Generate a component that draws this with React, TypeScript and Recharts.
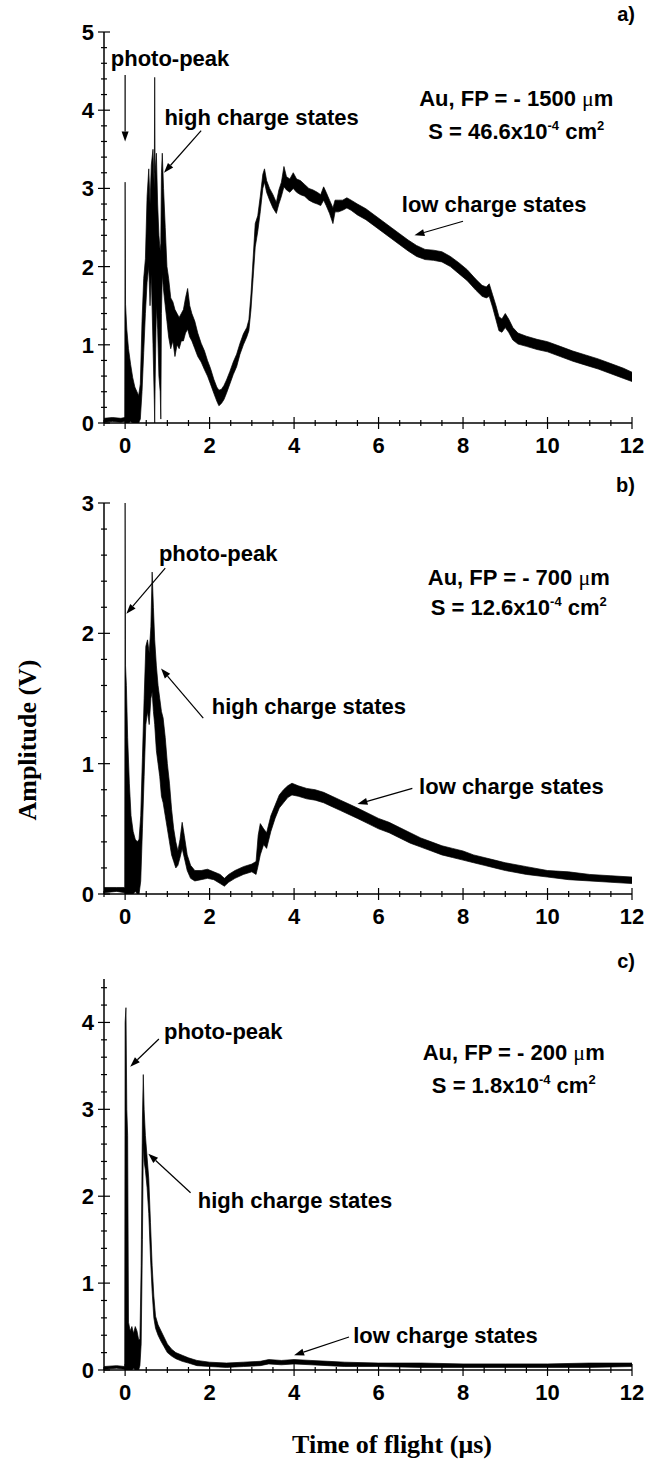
import { AreaChart, Area, XAxis, YAxis, ReferenceDot, ReferenceLine } from 'recharts';

const SANS = '"Liberation Sans", Arial, Helvetica, sans-serif';
const SERIF = '"Liberation Serif", "Times New Roman", serif';

// time of flight axis (µs), shared by the three panels
const xTicks = [-0.5, 0, 0.5, 1, 1.5, 2, 2.5, 3, 3.5, 4, 4.5, 5, 5.5, 6, 6.5, 7, 7.5, 8, 8.5, 9, 9.5, 10, 10.5, 11, 11.5, 12];
const xMajor = [0, 2, 4, 6, 8, 10, 12];

// a) FP = -1500 µm : noisy trace kept as lower / upper edge of the band
const timeA = [
  -0.5, -0.3, -0.1, -0.01, 0, 0.01, 0.04, 0.08, 0.13, 0.18,
  0.23, 0.28, 0.32, 0.36, 0.4, 0.44, 0.48, 0.52, 0.56, 0.59,
  0.62, 0.66, 0.69, 0.7, 0.71, 0.74, 0.77, 0.8, 0.83, 0.845,
  0.86, 0.88, 0.91, 0.95, 0.99, 1.03, 1.08, 1.13, 1.18, 1.23,
  1.28, 1.33, 1.38, 1.43, 1.48, 1.53, 1.58, 1.65, 1.72, 1.8,
  1.88, 1.95, 2.02, 2.1, 2.17, 2.22, 2.28, 2.34, 2.4, 2.48,
  2.56, 2.64, 2.72, 2.8, 2.88, 2.93, 2.98, 3.03, 3.08, 3.14,
  3.2, 3.26, 3.3, 3.35, 3.42, 3.5, 3.58, 3.64, 3.7, 3.76,
  3.82, 3.9, 3.98, 4.06, 4.15, 4.25, 4.35, 4.45, 4.55, 4.63,
  4.7, 4.76, 4.84, 4.92, 4.97, 5.05, 5.15, 5.25, 5.35, 5.5,
  5.7, 5.9, 6.1, 6.3, 6.5, 6.7, 6.9, 7.1, 7.3, 7.5,
  7.7, 7.9, 8.1, 8.3, 8.45, 8.55, 8.62, 8.7, 8.78, 8.85,
  8.92, 9.0, 9.08, 9.18, 9.3, 9.5, 9.75, 10.0, 10.3, 10.6,
  10.9, 11.2, 11.5, 11.8, 12.0,
];
const lowA = [
  0.01, 0.02, 0.01, 0.02, 0, 0, 0, 0, 0.02, 0,
  0, 0, 0, 0.05, 0.4, 0.9, 1.4, 1.8, 2.0, 1.5,
  1.9, 1.0, 0.3, 0, 0.5, 1.5, 1.2, 0.6, 0.4, 0.05,
  1.4, 1.9, 1.7, 1.5, 1.3, 1.1, 0.95, 1.05, 0.85, 1.0,
  0.95, 1.05, 1.05, 1.15, 1.2, 1.1, 1.05, 0.95, 0.85, 0.78,
  0.68, 0.6, 0.5, 0.38, 0.28, 0.22, 0.25, 0.3, 0.38, 0.5,
  0.62, 0.72, 0.88, 1.0, 1.1, 1.18, 1.45, 1.85, 2.25, 2.45,
  2.7, 3.0, 3.08, 2.95, 2.85, 2.75, 2.68, 2.8, 2.9, 3.02,
  2.98, 2.95, 3.0, 2.95, 2.92, 2.9, 2.85, 2.82, 2.8, 2.78,
  2.85, 2.78, 2.68, 2.55, 2.7, 2.7, 2.72, 2.75, 2.72, 2.66,
  2.6, 2.52, 2.44, 2.36, 2.28, 2.2, 2.13, 2.09, 2.08, 2.06,
  2.0, 1.91, 1.82, 1.7, 1.62, 1.6, 1.62, 1.48, 1.32, 1.18,
  1.16, 1.22, 1.16, 1.06, 1.01, 0.98, 0.94, 0.91, 0.85, 0.79,
  0.74, 0.69, 0.63, 0.57, 0.53,
];
const highA = [
  0.06, 0.07, 0.06, 0.07, 3.08, 1.52, 1.2, 0.95, 0.75, 0.58,
  0.46, 0.4, 0.35, 0.5, 1.3, 1.85, 2.1, 2.9, 3.25, 2.8,
  3.3, 3.5, 3.0, 4.42, 3.2, 3.45, 2.8, 2.4, 2.2, 2.3,
  3.2, 3.45, 3.0, 2.5, 2.0, 1.85, 1.6, 1.55, 1.45, 1.4,
  1.35, 1.4, 1.45, 1.6, 1.72, 1.5, 1.4, 1.3, 1.15, 1.02,
  0.92, 0.8, 0.7, 0.56, 0.46, 0.42, 0.43, 0.48, 0.55, 0.66,
  0.78, 0.88, 1.02, 1.14, 1.22, 1.32, 1.65, 2.1, 2.55, 2.65,
  2.9, 3.18, 3.25, 3.1, 3.0, 2.92, 2.82, 2.98, 3.08, 3.28,
  3.15, 3.12, 3.2, 3.12, 3.1, 3.05, 3.0, 2.98, 2.95, 2.92,
  3.02, 2.95, 2.85, 2.75, 2.85, 2.85, 2.85, 2.88, 2.85, 2.8,
  2.74, 2.66, 2.58, 2.5, 2.42, 2.34, 2.27, 2.22, 2.21, 2.19,
  2.13, 2.05, 1.96, 1.84, 1.76, 1.74, 1.78, 1.64, 1.5, 1.36,
  1.33, 1.4, 1.33, 1.22, 1.15, 1.11, 1.07, 1.04, 0.98, 0.92,
  0.87, 0.82, 0.76, 0.7, 0.65,
];
const yTicksA = [0, 0.2, 0.4, 0.6, 0.8, 1, 1.2, 1.4, 1.6, 1.8, 2, 2.2, 2.4, 2.6, 2.8, 3, 3.2, 3.4, 3.6, 3.8, 4, 4.2, 4.4, 4.6, 4.8, 5];
const yMajorA = [0, 1, 2, 3, 4, 5];

// b) FP = -700 µm
const timeB = [
  -0.5, -0.2, -0.01, 0, 0.01, 0.03, 0.06, 0.1, 0.14, 0.19,
  0.24, 0.29, 0.33, 0.37, 0.41, 0.45, 0.49, 0.53, 0.57, 0.61,
  0.64, 0.67, 0.7, 0.74, 0.78, 0.82, 0.86, 0.9, 0.95, 1.0,
  1.05, 1.1, 1.15, 1.2, 1.25, 1.3, 1.35, 1.4, 1.47, 1.55,
  1.65, 1.8, 1.95, 2.1, 2.25, 2.35, 2.45, 2.6, 2.8, 3.0,
  3.1, 3.15, 3.2, 3.28, 3.35, 3.45, 3.55, 3.65, 3.75, 3.85,
  3.95, 4.1, 4.3, 4.5, 4.7, 4.9, 5.1, 5.3, 5.5, 5.75,
  6.0, 6.25, 6.5, 6.75, 7.0, 7.25, 7.5, 7.75, 8.0, 8.25,
  8.5, 8.75, 9.0, 9.5, 10.0, 10.5, 11.0, 11.5, 12.0,
];
const lowB = [
  0.01, 0.02, 0.01, 0, 0, 0, 0, 0, 0, 0,
  0.02, 0, 0, 0.1, 0.5, 0.9, 1.3, 1.4, 1.3, 1.5,
  1.55, 1.4, 1.3, 1.1, 1.0, 0.9, 0.75, 0.7, 0.6, 0.5,
  0.4, 0.3, 0.25, 0.2, 0.22, 0.28, 0.35, 0.28, 0.18, 0.12,
  0.1, 0.11, 0.12, 0.11, 0.08, 0.06, 0.09, 0.12, 0.15, 0.17,
  0.15, 0.22, 0.3, 0.38, 0.35, 0.48, 0.58, 0.66, 0.7, 0.74,
  0.76, 0.75, 0.73, 0.72, 0.7, 0.67, 0.64, 0.61, 0.58, 0.54,
  0.5, 0.47, 0.43, 0.39, 0.36, 0.33, 0.3, 0.28, 0.26, 0.24,
  0.22, 0.2, 0.18, 0.15, 0.13, 0.11, 0.1, 0.09, 0.08,
];
const highB = [
  0.05, 0.05, 0.05, 3.0, 1.75, 1.6, 1.2, 0.85, 0.6, 0.48,
  0.42, 0.4, 0.42, 0.6, 1.05, 1.5, 1.9, 1.95, 1.85, 2.05,
  2.47, 2.2, 1.95, 1.75, 1.6, 1.5, 1.4, 1.35, 1.2, 1.0,
  0.85, 0.65, 0.5, 0.4, 0.33, 0.42, 0.55, 0.45, 0.3, 0.22,
  0.18, 0.18, 0.19, 0.17, 0.15, 0.12, 0.15, 0.18, 0.21, 0.23,
  0.25, 0.45, 0.54, 0.5, 0.47, 0.6, 0.68, 0.76, 0.8, 0.83,
  0.85, 0.83, 0.81, 0.8, 0.78, 0.75, 0.72, 0.69, 0.66, 0.62,
  0.58, 0.55, 0.51, 0.47, 0.43, 0.4, 0.37, 0.35, 0.33, 0.3,
  0.28, 0.26, 0.24, 0.21, 0.18, 0.17, 0.15, 0.14, 0.13,
];
const yTicksB = [0, 0.2, 0.4, 0.6, 0.8, 1, 1.2, 1.4, 1.6, 1.8, 2, 2.2, 2.4, 2.6, 2.8, 3];
const yMajorB = [0, 1, 2, 3];

// c) FP = -200 µm
const timeC = [
  -0.5, -0.2, -0.01, 0, 0.02, 0.04, 0.06, 0.08, 0.12, 0.16,
  0.2, 0.24, 0.28, 0.32, 0.35, 0.38, 0.41, 0.43, 0.45, 0.48,
  0.52, 0.56, 0.6, 0.64, 0.68, 0.72, 0.78, 0.85, 0.92, 1.0,
  1.1, 1.2, 1.35, 1.5, 1.7, 2.0, 2.4, 2.8, 3.2, 3.4,
  3.7, 4.0, 4.4, 4.8, 5.2, 6.0, 7.0, 8.0, 9.0, 10.0,
  11.0, 12.0,
];
const lowC = [
  0.01, 0.02, 0.01, 0, 0, 0, 0, 0, 0, 0,
  0.02, 0, 0, 0, 0.05, 0.3, 1.5, 2.6, 2.4, 2.3,
  2.1, 1.8, 1.3, 0.9, 0.6, 0.48, 0.4, 0.33, 0.27, 0.2,
  0.16, 0.13, 0.1, 0.08, 0.05, 0.04, 0.03, 0.04, 0.05, 0.07,
  0.06, 0.07, 0.06, 0.05, 0.04, 0.04, 0.03, 0.03, 0.03, 0.03,
  0.03, 0.04,
];
const highC = [
  0.04, 0.05, 0.04, 4.0, 4.17, 3.0, 2.7, 0.55, 0.45, 0.5,
  0.42, 0.5, 0.45, 0.35, 0.35, 1.2, 2.9, 3.4, 3.0, 2.7,
  2.45, 2.2, 1.7, 1.2, 0.85, 0.62, 0.52, 0.45, 0.38, 0.3,
  0.24, 0.2, 0.17, 0.14, 0.11, 0.09, 0.08, 0.09, 0.1, 0.12,
  0.11, 0.12, 0.11, 0.1, 0.09, 0.08, 0.08, 0.07, 0.07, 0.07,
  0.08, 0.08,
];
const yTicksC = [0, 0.2, 0.4, 0.6, 0.8, 1, 1.2, 1.4, 1.6, 1.8, 2, 2.2, 2.4, 2.6, 2.8, 3, 3.2, 3.4, 3.6, 3.8, 4, 4.2, 4.4];
const yMajorC = [0, 1, 2, 3, 4];

// annotations, in data units: [x, y, text]
const notesA: [number, number, string][] = [[-0.34, 4.67, 'photo-peak'], [0.93, 3.91, 'high charge states'], [6.55, 2.8, 'low charge states']];
const notesB: [number, number, string][] = [[0.8, 2.62, 'photo-peak'], [2.05, 1.44, 'high charge states'], [6.96, 0.83, 'low charge states']];
const notesC: [number, number, string][] = [[0.92, 3.9, 'photo-peak'], [1.72, 1.96, 'high charge states'], [5.4, 0.4, 'low charge states']];

// arrows: [x from, y from, x to, y to]
const arrowsA = [[0, 4.45, 0, 3.6], [1.8, 3.74, 0.92, 3.2], [8.0, 2.58, 6.85, 2.4]];
const arrowsB = [[0.95, 2.5, 0.03, 2.15], [1.85, 1.35, 0.85, 1.73], [6.8, 0.81, 5.5, 0.69]];
const arrowsC = [[0.8, 3.81, 0.12, 3.49], [1.55, 2.04, 0.55, 2.49], [5.3, 0.38, 4.0, 0.17]];

// focus position and spot area: [x, y line 1, y line 2, FP text, S text]
const infoA: [number, number, number, string, string] = [9.26, 4.15, 3.74, '- 1500', '46.6'];
const infoB: [number, number, number, string, string] = [9.32, 2.43, 2.2, '- 700', '12.6'];
const infoC: [number, number, number, string, string] = [9.2, 3.66, 3.28, '- 200', '1.8'];

const labelStyle = { fontFamily: SANS, fontWeight: 700, fontSize: 22, fill: '#000' };

function makeTick(side: string, majors: number[]) {
  return (props: any) => {
    const { x, y, payload } = props;
    const v = payload.value as number;
    const major = majors.includes(v);
    const len = major ? 6 : 3;
    let line;
    if (side === 'bottom') line = <line x1={x} x2={x} y1={y - len} y2={y + len} />;
    else if (side === 'top') line = <line x1={x} x2={x} y1={y} y2={y + len + 1} />;
    else if (side === 'left') line = <line x1={x - len} x2={x + len} y1={y} y2={y} />;
    else line = <line x1={x - len - 1} x2={x} y1={y} y2={y} />;
    return (
      <g stroke="#000" strokeWidth={1.2}>
        {line}
        {major && side === 'bottom' && (
          <text x={x} y={y + 30} textAnchor="middle" stroke="none" style={labelStyle}>{v}</text>
        )}
        {major && side === 'left' && (
          <text x={x - 10} y={y + 8} textAnchor="end" stroke="none" style={labelStyle}>{v}</text>
        )}
      </g>
    );
  };
}

const arrowShape = (p: any) => {
  const { x1, y1, x2, y2 } = p;
  if (x1 == null) return <g />;
  const dx = x2 - x1;
  const dy = y2 - y1;
  const len = Math.hypot(dx, dy) || 1;
  const ux = dx / len;
  const uy = dy / len;
  const bx = x2 - ux * 10;
  const by = y2 - uy * 10;
  return (
    <g>
      <line x1={x1} y1={y1} x2={bx} y2={by} stroke="#000" strokeWidth={1.2} />
      <polygon points={`${x2},${y2} ${bx - uy * 3.5},${by + ux * 3.5} ${bx + uy * 3.5},${by - ux * 3.5}`} fill="#000" />
    </g>
  );
};

const axisLine = { stroke: '#000', strokeWidth: 1.5 };

function Panel({ plotTop, time, low, high, yMax, yTicks, yMajor, notes, arrows, info }: any) {
  const rows = time.map((t: number, i: number) => ({ t, band: [low[i], high[i]] }));
  const [ix, iy1, iy2, fp, s] = info;
  return (
    <div style={{ position: 'absolute', left: 0, top: plotTop - 32 }}>
      <AreaChart width={648} height={460} data={rows} margin={{ top: 32, right: 16, bottom: 7, left: 64 }}>
        <XAxis xAxisId="bottom" dataKey="t" type="number" domain={[-0.5, 12]} allowDataOverflow ticks={xTicks} interval={0}
          tick={makeTick('bottom', xMajor)} tickLine={false} tickSize={0} tickMargin={0} height={30} axisLine={axisLine} />
        <XAxis xAxisId="top" orientation="top" dataKey="t" type="number" domain={[-0.5, 12]} allowDataOverflow ticks={xTicks} interval={0}
          tick={makeTick('top', xMajor)} tickLine={false} tickSize={0} tickMargin={0} height={0} axisLine={axisLine} />
        <YAxis yAxisId="left" type="number" domain={[0, yMax]} allowDataOverflow ticks={yTicks} interval={0}
          tick={makeTick('left', yMajor)} tickLine={false} tickSize={0} tickMargin={0} width={40} axisLine={axisLine} />
        <YAxis yAxisId="right" orientation="right" type="number" domain={[0, yMax]} allowDataOverflow ticks={yTicks} interval={0}
          tick={makeTick('right', yMajor)} tickLine={false} tickSize={0} tickMargin={0} width={0} axisLine={axisLine} />
        <Area xAxisId="bottom" yAxisId="left" dataKey="band" type="linear" stroke="#000" strokeWidth={0.7}
          fill="#000" fillOpacity={1} dot={false} activeDot={false} isAnimationActive={false} />
        {arrows.map((a: number[], i: number) => (
          <ReferenceLine key={'ar' + i} xAxisId="bottom" yAxisId="left" ifOverflow="visible"
            segment={[{ x: a[0], y: a[1] }, { x: a[2], y: a[3] }]} shape={arrowShape} />
        ))}
        {notes.map((n: [number, number, string], i: number) => (
          <ReferenceDot key={'n' + i} xAxisId="bottom" yAxisId="left" x={n[0]} y={n[1]} r={1} ifOverflow="visible"
            shape={(p: any) => <text x={p.cx} y={p.cy} dy={8} textAnchor="start" style={labelStyle}>{n[2]}</text>} />
        ))}
        <ReferenceDot xAxisId="bottom" yAxisId="left" x={ix} y={iy1} r={1} ifOverflow="visible"
          shape={(p: any) => (
            <text x={p.cx} y={p.cy} dy={8} textAnchor="middle" style={labelStyle}>
              {`Au, FP = ${fp} `}<tspan style={{ fontFamily: SERIF, fontWeight: 400 }}>μ</tspan>m
            </text>
          )} />
        <ReferenceDot xAxisId="bottom" yAxisId="left" x={ix} y={iy2} r={1} ifOverflow="visible"
          shape={(p: any) => (
            <text x={p.cx} y={p.cy} dy={8} textAnchor="middle" style={labelStyle}>
              {`S = ${s}x10`}<tspan dy={-9} fontSize={13}>-4</tspan><tspan dy={9}>{'\u00a0cm'}</tspan><tspan dy={-9} fontSize={13}>2</tspan>
            </text>
          )} />
      </AreaChart>
    </div>
  );
}

export default function App() {
  return (
    <div style={{ position: 'absolute', left: 0, top: 0, width: 648, height: 1460, background: '#fff' }}>
      <Panel plotTop={32} time={timeA} low={lowA} high={highA} yMax={5} yTicks={yTicksA} yMajor={yMajorA}
        notes={notesA} arrows={arrowsA} info={infoA} />
      <Panel plotTop={503} time={timeB} low={lowB} high={highB} yMax={3} yTicks={yTicksB} yMajor={yMajorB}
        notes={notesB} arrows={arrowsB} info={infoB} />
      <Panel plotTop={979} time={timeC} low={lowC} high={highC} yMax={4.5} yTicks={yTicksC} yMajor={yMajorC}
        notes={notesC} arrows={arrowsC} info={infoC} />
      <svg width={648} height={1460} style={{ position: 'absolute', left: 0, top: 0, pointerEvents: 'none' }}>
        <g style={{ fontFamily: SANS, fontWeight: 700, fontSize: 20 }} textAnchor="end">
          <text x={635} y={21}>a)</text>
          <text x={635} y={492}>b)</text>
          <text x={635} y={968}>c)</text>
        </g>
        <text x={27} y={740} transform="rotate(-90 27 740)" textAnchor="middle" dominantBaseline="central"
          style={{ fontFamily: SERIF, fontWeight: 700, fontSize: 26 }}>Amplitude (V)</text>
        <text x={392} y={1453} textAnchor="middle" style={{ fontFamily: SERIF, fontWeight: 700, fontSize: 26 }}>
          Time of flight (μs)
        </text>
      </svg>
    </div>
  );
}
